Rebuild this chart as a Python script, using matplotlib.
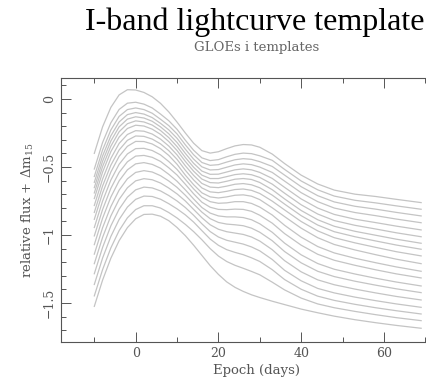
import matplotlib
matplotlib.use("Agg")
import matplotlib.pyplot as plt
from matplotlib.ticker import MultipleLocator

epoch = [-10, -8, -6, -4, -2, 0, 2, 4, 6, 8, 10, 12, 14, 16, 18, 20, 22, 24, 26, 28, 30,
         33, 36, 40, 44, 48, 53, 58, 63, 69]

# one row per template, top (small dm15) to bottom (large dm15)
templates = [
    [-0.400, -0.205, -0.062, 0.030, 0.068, 0.066, 0.048, 0.016, -0.032, -0.095, -0.170, -0.250, -0.325, -0.380, -0.398, -0.388, -0.365, -0.345, -0.335, -0.338, -0.355, -0.405, -0.475, -0.560, -0.625, -0.670, -0.700, -0.717, -0.738, -0.762],
    [-0.515, -0.320, -0.175, -0.077, -0.031, -0.024, -0.038, -0.066, -0.111, -0.160, -0.223, -0.303, -0.377, -0.433, -0.453, -0.446, -0.425, -0.407, -0.398, -0.402, -0.418, -0.451, -0.518, -0.603, -0.668, -0.714, -0.745, -0.764, -0.786, -0.811],
    [-0.570, -0.375, -0.228, -0.128, -0.078, -0.066, -0.078, -0.105, -0.149, -0.196, -0.257, -0.337, -0.410, -0.467, -0.488, -0.483, -0.464, -0.447, -0.439, -0.444, -0.461, -0.496, -0.560, -0.645, -0.711, -0.757, -0.789, -0.810, -0.834, -0.860],
    [-0.613, -0.419, -0.271, -0.169, -0.115, -0.100, -0.111, -0.137, -0.179, -0.227, -0.289, -0.369, -0.442, -0.499, -0.522, -0.519, -0.502, -0.485, -0.477, -0.483, -0.501, -0.540, -0.604, -0.689, -0.755, -0.802, -0.835, -0.858, -0.883, -0.910],
    [-0.652, -0.458, -0.309, -0.205, -0.148, -0.131, -0.140, -0.164, -0.205, -0.256, -0.320, -0.400, -0.473, -0.530, -0.554, -0.553, -0.537, -0.521, -0.514, -0.521, -0.540, -0.584, -0.650, -0.735, -0.802, -0.849, -0.884, -0.909, -0.935, -0.963],
    [-0.691, -0.497, -0.347, -0.241, -0.182, -0.161, -0.169, -0.192, -0.232, -0.284, -0.350, -0.430, -0.502, -0.560, -0.585, -0.585, -0.571, -0.556, -0.550, -0.557, -0.577, -0.626, -0.693, -0.778, -0.846, -0.894, -0.929, -0.956, -0.984, -1.013],
    [-0.732, -0.538, -0.387, -0.280, -0.217, -0.193, -0.199, -0.222, -0.260, -0.313, -0.379, -0.459, -0.531, -0.589, -0.615, -0.618, -0.605, -0.590, -0.585, -0.592, -0.614, -0.667, -0.735, -0.820, -0.888, -0.936, -0.973, -1.002, -1.031, -1.061],
    [-0.783, -0.589, -0.437, -0.327, -0.261, -0.233, -0.237, -0.258, -0.295, -0.346, -0.411, -0.491, -0.562, -0.621, -0.648, -0.652, -0.641, -0.627, -0.622, -0.631, -0.653, -0.707, -0.773, -0.858, -0.927, -0.976, -1.013, -1.044, -1.074, -1.105],
    [-0.834, -0.640, -0.487, -0.375, -0.304, -0.272, -0.275, -0.295, -0.330, -0.380, -0.444, -0.524, -0.595, -0.654, -0.683, -0.689, -0.679, -0.666, -0.662, -0.672, -0.695, -0.751, -0.816, -0.901, -0.970, -1.020, -1.058, -1.091, -1.123, -1.154],
    [-0.885, -0.691, -0.537, -0.422, -0.348, -0.312, -0.313, -0.331, -0.365, -0.415, -0.480, -0.560, -0.630, -0.690, -0.720, -0.728, -0.720, -0.708, -0.705, -0.715, -0.740, -0.800, -0.865, -0.950, -1.020, -1.070, -1.110, -1.145, -1.178, -1.211],
    [-0.945, -0.751, -0.596, -0.480, -0.404, -0.365, -0.363, -0.379, -0.411, -0.460, -0.518, -0.591, -0.661, -0.722, -0.755, -0.767, -0.764, -0.755, -0.755, -0.768, -0.795, -0.853, -0.929, -1.016, -1.085, -1.132, -1.171, -1.204, -1.235, -1.267],
    [-1.007, -0.813, -0.657, -0.540, -0.462, -0.420, -0.415, -0.429, -0.459, -0.506, -0.559, -0.627, -0.697, -0.759, -0.796, -0.812, -0.814, -0.810, -0.812, -0.826, -0.855, -0.913, -0.990, -1.075, -1.142, -1.186, -1.223, -1.256, -1.286, -1.316],
    [-1.071, -0.877, -0.721, -0.602, -0.521, -0.477, -0.468, -0.481, -0.509, -0.554, -0.605, -0.668, -0.735, -0.798, -0.839, -0.860, -0.867, -0.867, -0.872, -0.888, -0.918, -0.980, -1.060, -1.146, -1.210, -1.252, -1.287, -1.318, -1.346, -1.375],
    [-1.141, -0.947, -0.791, -0.670, -0.587, -0.540, -0.527, -0.537, -0.564, -0.603, -0.650, -0.708, -0.772, -0.832, -0.880, -0.908, -0.920, -0.925, -0.932, -0.950, -0.980, -1.042, -1.122, -1.205, -1.267, -1.306, -1.340, -1.369, -1.396, -1.424],
    [-1.211, -1.018, -0.860, -0.738, -0.653, -0.602, -0.586, -0.594, -0.618, -0.655, -0.698, -0.750, -0.812, -0.873, -0.925, -0.958, -0.976, -0.986, -0.996, -1.015, -1.045, -1.108, -1.189, -1.271, -1.330, -1.366, -1.398, -1.426, -1.452, -1.478],
    [-1.285, -1.092, -0.933, -0.810, -0.722, -0.668, -0.648, -0.654, -0.676, -0.710, -0.750, -0.798, -0.855, -0.918, -0.975, -1.015, -1.039, -1.053, -1.067, -1.088, -1.117, -1.180, -1.260, -1.337, -1.393, -1.426, -1.457, -1.483, -1.507, -1.532],
    [-1.364, -1.170, -1.011, -0.886, -0.795, -0.738, -0.714, -0.717, -0.737, -0.770, -0.808, -0.852, -0.905, -0.968, -1.030, -1.076, -1.108, -1.128, -1.145, -1.168, -1.195, -1.255, -1.328, -1.399, -1.450, -1.481, -1.510, -1.535, -1.557, -1.581],
    [-1.448, -1.255, -1.095, -0.968, -0.874, -0.813, -0.785, -0.785, -0.802, -0.835, -0.875, -0.922, -0.975, -1.035, -1.100, -1.155, -1.195, -1.223, -1.245, -1.268, -1.293, -1.347, -1.404, -1.464, -1.507, -1.535, -1.562, -1.586, -1.608, -1.630],
    [-1.525, -1.332, -1.171, -1.042, -0.946, -0.881, -0.849, -0.847, -0.862, -0.895, -0.945, -1.005, -1.075, -1.150, -1.225, -1.290, -1.345, -1.385, -1.415, -1.440, -1.460, -1.487, -1.512, -1.545, -1.572, -1.597, -1.623, -1.645, -1.665, -1.686],
]

title = "I-band lightcurve template"
subtitle = "GLOEs i templates"

plt.rcParams["font.family"] = ["DejaVu Serif"]
plt.rcParams["mathtext.fontset"] = "dejavuserif"

fig = plt.figure(figsize=(4.27, 3.81), dpi=100)
# the plot frame runs past the right edge of the picture
ax = fig.add_axes([61 / 427, 1 - 342 / 381, 392 / 427, (342 - 78.3) / 381])

for row in templates:
    ax.plot(epoch, row, color="#c4c4c4", lw=0.9)

ax.set_xlim(-18.05, 76.7)
ax.set_ylim(-1.787, 0.152)

ax.xaxis.set_major_locator(MultipleLocator(20))
ax.xaxis.set_minor_locator(MultipleLocator(10))
ax.yaxis.set_major_locator(MultipleLocator(0.5))
ax.yaxis.set_minor_locator(MultipleLocator(0.1))
ax.tick_params(which="both", direction="in", top=True, right=True,
               color="#555555", width=0.7, labelcolor="#555555", labelsize=9)
ax.tick_params(which="major", length=7)
ax.tick_params(which="minor", length=3.5)
ax.set_yticks([0, -0.5, -1, -1.5])
ax.set_yticklabels(["0", "\u22120.5", "\u22121", "\u22121.5"], rotation=90, va="center")
for s in ax.spines.values():
    s.set_color("#555555")
    s.set_linewidth(0.8)

ax.set_xlabel("Epoch (days)", color="#555555", fontsize=9.5, labelpad=3)
ax.set_ylabel(r"relative flux + $\Delta$m$_{15}$", color="#555555", fontsize=9.5, labelpad=5)

fig.text(255 / 427, 1 - 22 / 381, title, ha="center", va="center",
         fontsize=23, color="black", family="Liberation Serif")
fig.text(257 / 427, 1 - 47 / 381, subtitle, ha="center", va="center", fontsize=9.5, color="#666666")

fig.savefig("out.png", dpi=100)
